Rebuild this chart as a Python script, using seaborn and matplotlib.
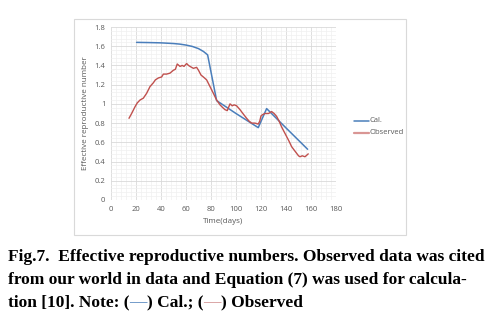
import numpy as np
import pandas as pd
import matplotlib
matplotlib.use("Agg")
import matplotlib.pyplot as plt
from matplotlib.patches import Rectangle
from matplotlib.ticker import MultipleLocator
from matplotlib.lines import Line2D
import seaborn as sns

# Data
cal_days = [20.5, 30, 40, 50, 55, 60, 65, 70, 74, 77.3, 84.5, 100, 117.8, 124.5, 140, 157.3]
cal_r    = [1.64, 1.638, 1.635, 1.628, 1.622, 1.612, 1.598, 1.575, 1.545, 1.51, 1.034, 0.90, 0.753, 0.951, 0.75, 0.528]

obs_days = [14.4, 16.5, 19.2, 21, 23.2, 25.9, 28.5, 31.2, 33.9, 35.5, 37.9, 40.5, 41.9, 44.5, 47.2, 49.9, 51.5, 53, 55.2, 57,
            58.4, 60.5, 62, 63.2, 65.9, 68.5, 70, 72, 73.9, 76.5, 79.2, 81.9, 84.5, 87.2, 89.5, 91.2, 93, 95.2, 97, 98.5,
            100.5, 103.2, 105.5, 108.5, 110.5, 112.5, 115.2, 117.8, 119, 120, 121.5, 123.2, 126, 128.5, 130.5, 132.5,
            134.5, 136.5, 138.5, 140.5, 142.5, 144.5, 146.5, 148.5, 150, 151.2, 153, 155.2, 157.8]
obs_r    = [0.85, 0.90, 0.97, 1.01, 1.04, 1.06, 1.11, 1.18, 1.22, 1.25, 1.27, 1.28, 1.31, 1.31, 1.32, 1.35, 1.36, 1.415, 1.39, 1.40,
            1.39, 1.42, 1.40, 1.39, 1.37, 1.38, 1.35, 1.30, 1.28, 1.25, 1.18, 1.11, 1.04, 0.99, 0.96, 0.94, 0.93, 1.00, 0.98, 0.99,
            0.98, 0.94, 0.90, 0.85, 0.82, 0.80, 0.80, 0.79, 0.82, 0.875, 0.89, 0.90, 0.90, 0.92, 0.90, 0.87,
            0.82, 0.76, 0.71, 0.66, 0.61, 0.555, 0.52, 0.486, 0.46, 0.45, 0.46, 0.45, 0.48]

x_ticks = [0, 20, 40, 60, 80, 100, 120, 140, 160, 180]
y_ticks = [0, 0.2, 0.4, 0.6, 0.8, 1.0, 1.2, 1.4, 1.6, 1.8]
y_tick_labels = ["0", "0.2", "0.4", "0.6", "0.8", "1", "1.2", "1.4", "1.6", "1.8"]

caption_lines = [
    "Fig.7.  Effective reproductive numbers. Observed data was cited",
    "from our world in data and Equation (7) was used for calcula-",
    "tion [10]. Note: (\u2014) Cal.; (\u2014) Observed",
]

sns.set_theme(style="white")
plt.rcParams["font.family"] = ["Open Sans", "DejaVu Sans"]

W, H = 495, 320
fig = plt.figure(figsize=(W / 100, H / 100), dpi=100)
fig.patch.set_facecolor("white")

# chart border box
fig.patches.append(Rectangle((74 / W, 1 - 235 / H), (406 - 74) / W, (235 - 19) / H,
                             transform=fig.transFigure, fill=False, edgecolor="#d9d9d9", linewidth=0.8))

ax = fig.add_axes([111 / W, 1 - 200 / H, (336 - 111) / W, (200 - 27) / H])

df_cal = pd.DataFrame({"day": cal_days, "R": cal_r, "series": "Cal."})
df_obs = pd.DataFrame({"day": obs_days, "R": obs_r, "series": "Observed"})

sns.lineplot(data=df_cal, x="day", y="R", ax=ax, color="#4a7ebb", linewidth=1.1, legend=False)
sns.lineplot(data=df_obs, x="day", y="R", ax=ax, color="#c0504d", linewidth=1.0, legend=False)

ax.set_xlim(0, 180)
ax.set_ylim(0, 1.8)
ax.set_xticks(x_ticks)
ax.set_yticks(y_ticks)
ax.set_yticklabels(y_tick_labels)
ax.xaxis.set_minor_locator(MultipleLocator(4))
ax.yaxis.set_minor_locator(MultipleLocator(0.04))
ax.grid(which="major", color="#d9d9d9", linewidth=0.6)
ax.grid(which="minor", color="#f0f0f0", linewidth=0.5)
ax.set_axisbelow(True)
for s in ax.spines.values():
    s.set_visible(False)
ax.tick_params(axis="both", which="both", length=0, labelsize=5.5, labelcolor="#595959", pad=4)
ax.set_xlabel("Time(days)", fontsize=5.8, color="#595959", labelpad=4)
ax.set_ylabel("Effective reproductive number", fontsize=5.8, color="#595959", labelpad=4)

# legend drawn on the figure
fig.add_artist(Line2D([354 / W, 369 / W], [1 - 121 / H] * 2, color="#4a7ebb", linewidth=1.1,
                      transform=fig.transFigure))
fig.add_artist(Line2D([354 / W, 369 / W], [1 - 133 / H] * 2, color="#c0504d", linewidth=1.6, alpha=0.6,
                      transform=fig.transFigure))
fig.text(370 / W, 1 - 121 / H, "Cal.", fontsize=5.5, color="#595959", va="center", ha="left")
fig.text(370 / W, 1 - 133 / H, "Observed", fontsize=5.5, color="#595959", va="center", ha="left")

# caption
FS = 12.5
ys = [257, 280, 302]
for line, y in zip(caption_lines[:2], ys[:2]):
    fig.text(8 / W, 1 - y / H, line, fontsize=FS, fontweight="bold", family=["Liberation Serif"],
             va="center", ha="left", color="black")

# third line with coloured dashes
t = fig.text(8 / W, 1 - ys[2] / H, "tion [10]. Note: (", fontsize=FS, fontweight="bold",
             family=["Liberation Serif"], va="center", ha="left", color="black")
fig.canvas.draw()
r = fig.canvas.get_renderer()
bb = t.get_window_extent(r)
x = bb.x1
seq = [("\u2014", "#4a7ebb", "normal"), (") Cal.; (", "black", "bold"), ("\u2014", "#d08c8c", "normal"), (") Observed", "black", "bold")]
for s, c, w in seq:
    tt = fig.text(x / W, 1 - ys[2] / H, s, fontsize=FS, fontweight=w, family=["Liberation Serif"],
                  va="center", ha="left", color=c)
    bb = tt.get_window_extent(r)
    x = bb.x1

fig.savefig("out.png", dpi=100)
